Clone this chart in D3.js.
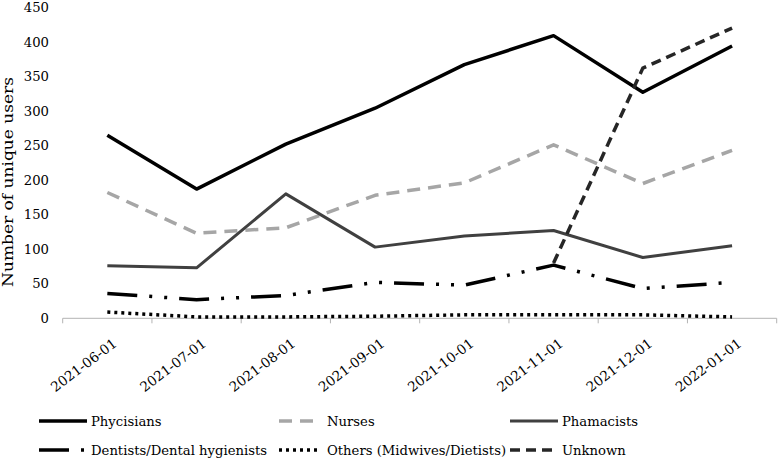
<!DOCTYPE html>
<html>
<head>
<meta charset="utf-8">
<script src="https://cdn.jsdelivr.net/npm/d3@7"></script>
<style>
  html, body { margin: 0; padding: 0; background: #fff; }
</style>
</head>
<body>
<svg id="chart" width="780" height="461"></svg>
<script>
const categories = ["2021-06-01","2021-07-01","2021-08-01","2021-09-01","2021-10-01","2021-11-01","2021-12-01","2022-01-01"];
const physicians = [265, 187, 252, 304, 367, 409, 327, 394];
const nurses     = [182, 123, 131, 178, 196, 251, 195, 243];
const pharmacists= [76, 73, 180, 103, 119, 127, 88, 105];
const dentists   = [36, 27, 33, 52, 48, 77, 43, 52];
const others     = [9, 2, 2, 3, 5, 5, 5, 2];
const unknown    = [null, null, null, null, null, 80, 362, 420];
const yTicks = [0, 50, 100, 150, 200, 250, 300, 350, 400, 450];

const FONT = "DejaVu Serif";

const series = [
  {name: "Phycisians", values: physicians, color: "#000000", width: 3.5, dash: null},
  {name: "Nurses", values: nurses, color: "#a6a6a6", width: 3.5, dash: "13,8"},
  {name: "Phamacists", values: pharmacists, color: "#404040", width: 3, dash: null},
  {name: "Dentists/Dental hygienists", values: dentists, color: "#000000", width: 3.5, dash: "30,12,3,12,3,12"},
  {name: "Others (Midwives/Dietists)", values: others, color: "#000000", width: 3.5, dash: "3,4"},
  {name: "Unknown", values: unknown, color: "#262626", width: 3.5, dash: "10,6"}
];

const svg = d3.select("#chart");
const band = d3.scaleBand().domain(categories).range([62.7, 776.7]).padding(0);
const xc = c => band(c) + band.bandwidth() / 2;
const y = d3.scaleLinear().domain([0, 450]).range([318.3, 7.3]);

const axisG = svg.append("g");
axisG.append("line")
  .attr("x1", band.range()[0]).attr("x2", band.range()[1])
  .attr("y1", y(0)).attr("y2", y(0))
  .attr("stroke", "#b3b3b3").attr("stroke-width", 1);
const boundaries = categories.map(c => band(c)).concat([band.range()[1]]);
axisG.selectAll("line.tick").data(boundaries).enter().append("line")
  .attr("class", "tick")
  .attr("x1", d => d).attr("x2", d => d)
  .attr("y1", y(0)).attr("y2", y(0) + 5)
  .attr("stroke", "#b3b3b3").attr("stroke-width", 1);

svg.append("g").selectAll("text").data(categories).enter().append("text")
  .attr("transform", d => `translate(${xc(d) + 10.5},${y(0) + 27}) rotate(-37)`)
  .attr("text-anchor", "end")
  .style("font-family", FONT)
  .attr("font-size", 13.6)
  .attr("fill", "#000")
  .text(d => d);

svg.append("g").selectAll("text").data(yTicks).enter().append("text")
  .attr("x", 49).attr("y", d => y(d))
  .attr("dy", "0.36em")
  .attr("text-anchor", "end")
  .style("font-family", FONT)
  .attr("font-size", 13.2)
  .attr("fill", "#000")
  .text(d => d);

svg.append("text")
  .attr("transform", `translate(13,182) rotate(-90)`)
  .attr("text-anchor", "middle")
  .style("font-family", FONT)
  .attr("font-size", 15)
  .attr("textLength", 210)
  .attr("lengthAdjust", "spacingAndGlyphs")
  .attr("fill", "#000")
  .text("Number of unique users");

const line = d3.line()
  .defined(d => d.v !== null)
  .x(d => xc(d.c))
  .y(d => y(d.v));

svg.append("g").selectAll("path").data(series).enter().append("path")
  .attr("d", s => line(s.values.map((v, i) => ({c: categories[i], v}))))
  .attr("fill", "none")
  .attr("stroke", s => s.color)
  .attr("stroke-width", s => s.width)
  .attr("stroke-dasharray", s => s.dash)
  .attr("stroke-linejoin", "round");

const legendPos = [
  {x: 39, y: 421}, {x: 279, y: 421}, {x: 510, y: 421},
  {x: 39, y: 450}, {x: 279, y: 450}, {x: 510, y: 450}
];
const lg = svg.append("g").selectAll("g").data(series).enter().append("g")
  .attr("transform", (d, i) => `translate(${legendPos[i].x},${legendPos[i].y})`);
lg.append("line")
  .attr("x1", 0).attr("x2", (d, i) => i === 3 ? 47 : (i === 1 || i === 4 ? 38 : 48))
  .attr("y1", 0).attr("y2", 0)
  .attr("stroke", d => d.color)
  .attr("stroke-width", d => d.width)
  .attr("stroke-dasharray", d => d.dash);
lg.append("text")
  .attr("x", (d, i) => (i === 1 || i === 4) ? 48 : 52)
  .attr("dy", "0.36em")
  .style("font-family", FONT)
  .attr("font-size", 13.2)
  .attr("fill", "#000")
  .text(d => d.name);
</script>
</body>
</html>
